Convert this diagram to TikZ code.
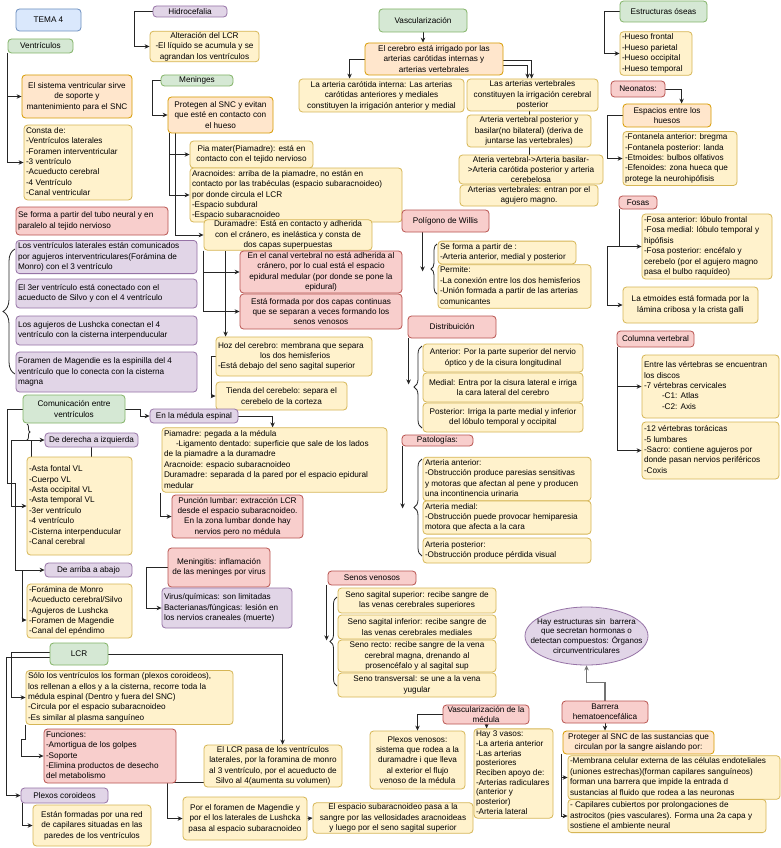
\documentclass[tikz,border=0pt]{standalone}
\usepackage{fontspec}
\setmainfont{Liberation Sans}
\usetikzlibrary{arrows.meta,shapes.geometric,decorations.pathreplacing,backgrounds}
\definecolor{yelF}{HTML}{FFF2CC}\definecolor{yelD}{HTML}{D6B656}
\definecolor{oraF}{HTML}{FFE6CC}\definecolor{oraD}{HTML}{D79B00}
\definecolor{redF}{HTML}{F8CECC}\definecolor{redD}{HTML}{B85450}
\definecolor{purF}{HTML}{E1D5E7}\definecolor{purD}{HTML}{9673A6}
\definecolor{grnF}{HTML}{D5E8D4}\definecolor{grnD}{HTML}{82B366}
\definecolor{bluF}{HTML}{DAE8FC}\definecolor{bluD}{HTML}{6C8EBF}
\newcommand\boxfont{\fontsize{8.2}{10.4}\selectfont}
\newcommand\bx[7]{\node[box,#2,minimum width={#5-#3},minimum height={#6-#4}] (#1) at ({(#3+#5)/2},{(#4+#6)/2}) {#7};}
\newcommand\bxl[7]{\node[box,#2,minimum width={#5-#3},minimum height={#6-#4}] (#1) at ({(#3+#5)/2},{(#4+#6)/2}) {\makebox[\dimexpr#5pt-#3pt-4pt\relax][l]{\begin{tabular}{@{}l@{}}#7\end{tabular}}};}
\begin{document}
\begin{tikzpicture}[x=1pt,y=-1pt,
  box/.style={draw, rounded corners=3.5pt, line width=0.8pt, inner xsep=2pt, inner ysep=1pt, font=\boxfont, text=black, align=center},
  yel/.style={fill=yelF, draw=yelD},
  ora/.style={fill=oraF, draw=oraD},
  red/.style={fill=redF, draw=redD},
  pur/.style={fill=purF, draw=purD},
  grn/.style={fill=grnF, draw=grnD},
  blu/.style={fill=bluF, draw=bluD},
  con/.style={draw=black!85, line width=0.8pt, -{Stealth[length=5pt,width=4.5pt]}},
  ln/.style={draw=black!85, line width=0.8pt},
  brc/.style={ln, decorate, decoration={brace, amplitude=#1}}]
\useasboundingbox (0,0) rectangle (781,848);

% ---------- top left ----------
\bx{tema}{blu}{16}{9}{81}{31}{TEMA 4}
\bx{hidro}{pur}{153}{6}{227}{17}{Hidrocefalia}
\bx{alter}{yel}{150}{32}{259}{61}{Alteración del LCR\\-El líquido se acumula y se\\agrandan los ventrículos}
\bx{vent}{grn}{8}{39}{73}{53}{Ventrículos}
\bx{sist}{ora}{22}{75}{132}{118}{El sistema ventricular sirve\\de soporte y\\mantenimiento para el SNC}
\bxl{consta}{yel}{24}{126}{132}{199}{Consta de:\\-Ventrículos laterales\\-Foramen interventricular\\-3 ventrículo\\-Acueducto cerebral\\-4 Ventrículo\\-Canal ventricular}
\bxl{seforma}{red}{16}{207}{168}{235}{Se forma a partir del tubo neural y en\\paralelo al tejido nervioso}
\bxl{lat}{pur}{16}{242}{197}{272}{Los ventrículos laterales están comunicados\\por agujeros interventriculares(Forámina de\\Monro) con el 3 ventrículo}
\bxl{tercer}{pur}{16}{279}{197}{308}{El 3er ventrículo está conectado con el\\acueducto de Silvo y con el 4 ventrículo}
\bxl{lush}{pur}{16}{316}{197}{345}{Los agujeros de Lushcka conectan el 4\\ventrículo con la cisterna interpenducular}
\bxl{mag}{pur}{16}{352}{197}{392}{Foramen de Magendie es la espinilla del 4\\ventrículo que lo conecta con la cisterna\\magna}

% ---------- meninges ----------
\bx{men}{grn}{161}{75}{233}{86}{Meninges}
\bx{prot}{ora}{168}{97}{273}{133}{Protegen al SNC y evitan\\que esté en contacto con\\el hueso}
\bx{pia}{yel}{190}{141}{313}{168}{Pia mater(Piamadre): está en\\contacto con el tejido nervioso}
\bxl{arac}{yel}{190}{170}{402}{220}{Aracnoides: arriba de la piamadre, no están en\\contacto por las trabéculas (espacio subaracnoideo)\\por donde circula el LCR\\-Espacio subdural\\-Espacio subaracnoideo}
\bx{dura}{yel}{204}{220}{372}{250}{Duramadre: Está en contacto y adherida\\con el cránero, es inelástica y consta de\\dos capas superpuestas}
\bx{canal}{red}{240}{251}{402}{293}{En el canal vertebral no está adherida al\\cránero, por lo cual está el espacio\\epidural medular (por donde se pone la\\epidural)}
\bx{capas}{red}{240}{294}{402}{329}{Está formada por dos capas continuas\\que se separan a veces formando los\\senos venosos}
\bxl{hoz}{yel}{216}{337}{372}{376}{Hoz del cerebro: membrana que separa\\\hspace*{42pt}los dos hemisferios\\-Está debajo del seno sagital superior}
\bx{tienda}{yel}{216}{382}{347}{410}{Tienda del cerebelo: separa el\\cerebelo de la corteza}

% ---------- vascularización ----------
\bx{vasc}{grn}{379}{9}{467}{32}{Vascularización}
\bx{cereb}{ora}{365}{43}{503}{75}{El cerebro está irrigado por las\\arterias carótidas internas y\\arterias vertebrales}
\bx{carot}{yel}{299}{79}{464}{112}{La arteria carótida interna: Las arterias\\carótidas anteriores y mediales\\constituyen la irrigación anterior y medial}
\bx{vert1}{yel}{467}{79}{598}{111}{Las arterias vertebrales\\constituyen la irrigación cerebral\\posterior}
\bx{vert2}{yel}{467}{115}{591}{147}{Arteria vertebral posterior y\\basilar(no bilateral) (deriva de\\juntarse las vertebrales)}
\bx{vert3}{yel}{459}{155}{603}{184}{Ateria vertebral->Arteria basilar-\\>Arteria carótida posterior y arteria\\cerebelosa}
\bx{vert4}{yel}{460}{185}{598}{206}{Arterias vertebrales: entran por el\\agujero magno.}

% ---------- estructuras óseas ----------
\bx{oseas}{grn}{620}{1}{707}{22}{Estructuras óseas}
\bxl{huesos}{yel}{620}{32}{692}{75}{-Hueso frontal\\-Hueso parietal\\-Hueso occipital\\-Hueso temporal}
\bx{neo}{red}{611}{81}{665}{97}{Neonatos:}
\bx{esp}{ora}{623}{104}{711}{127}{Espacios entre los\\huesos}
\bxl{font}{yel}{623}{133}{737}{184}{-Fontanela anterior: bregma\\-Fontanela posterior: landa\\-Etmoides: bulbos olfativos\\-Efenoides: zona hueca que\\protege la neurohipófisis}
\bx{fosas}{red}{619}{196}{657}{209}{Fosas}
\bxl{fosal}{yel}{642}{214}{772}{279}{-Fosa anterior: lóbulo frontal\\-Fosa medial: lóbulo temporal y\\hipófisis\\-Fosa posterior: encéfalo y\\cerebelo (por el agujero magno\\pasa el bulbo raquídeo)}
\bx{etm}{yel}{623}{287}{758}{323}{La etmoides está formada por la\\lámina cribosa y la crista galli}
\bx{col}{red}{617}{331}{694}{347}{Columna vertebral}
\bxl{entre}{yel}{642}{355}{779}{418}{Entre las vértebras se encuentran\\los discos\\-7 vértebras cervicales\\\hspace*{18pt}-C1: Atlas\\\hspace*{18pt}-C2: Axis}
\bxl{doce}{yel}{642}{422}{779}{479}{-12 vértebras torácicas\\-5 lumbares\\-Sacro: contiene agujeros por\\donde pasan nervios periféricos\\-Coxis}

% ---------- Willis / distribución / patologías ----------
\bx{willis}{red}{402}{210}{489}{232}{Polígono de Willis}
\bxl{sef}{yel}{438}{242}{576}{263}{Se forma a partir de :\\-Arteria anterior, medial y posterior}
\bxl{perm}{yel}{438}{265}{591}{308}{Permite:\\-La conexión entre los dos hemisferios\\-Unión formada a partir de las arterias\\comunicantes}
\bx{dist}{red}{408}{316}{496}{338}{Distribuición}
\bx{ant}{yel}{423}{344}{583}{372}{Anterior: Por la parte superior del nervio\\óptico y de la cisura longitudinal}
\bx{med}{yel}{423}{373}{583}{402}{Medial: Entra por la cisura lateral e irriga\\la cara lateral del cerebro}
\bx{post}{yel}{423}{403}{583}{432}{Posterior: Irriga la parte medial y inferior\\del lóbulo temporal y occipital}
\bx{pat}{red}{402}{435}{473}{446}{Patologías:}
\bxl{aant}{yel}{423}{458}{591}{500}{Arteria anterior:\\-Obstrucción produce paresias sensitivas\\y motoras que afectan al pene y producen\\una incontinencia urinaria}
\bxl{amed}{yel}{423}{501}{591}{534}{Arteria medial:\\-Obstrucción puede provocar hemiparesia\\motora que afecta a la cara}
\bxl{apost}{yel}{423}{538}{591}{563}{Arteria posterior:\\-Obstrucción produce pérdida visual}

% ---------- comunicación ----------
\bx{comun}{grn}{23}{395}{125}{423}{Comunicación entre\\ventrículos}
\bx{medula}{pur}{150}{409}{238}{423}{En la médula espinal}
\bxl{piam}{yel}{162}{430}{387}{490}{Piamadre: pegada a la médula\\\hspace*{12pt}-Ligamento dentado: superficie que sale de los lados\\de la piamadre a la duramadre\\Aracnoide: espacio subaracnoideo\\Duramadre: separada d la pared por el espacio epidural\\medular}
\bx{punc}{red}{172}{495}{303}{538}{Punción lumbar: extracción LCR\\desde el espacio subaracnoideo.\\En la zona lumbar donde hay\\nervios pero no médula}
\bx{menin}{red}{168}{548}{270}{587}{Meningitis: inflamación\\de las meninges por virus}
\bxl{virus}{pur}{162}{588}{292}{628}{Virus/químicas: son limitadas\\Bacterianas/fúngicas: lesión en\\los nervios craneales (muerte)}
\bx{dered}{pur}{45}{433}{138}{447}{De derecha a izquierda}
\bxl{asta}{yel}{27}{457}{132}{555}{-Asta fontal VL\\-Cuerpo VL\\-Asta occipital VL\\-Asta temporal VL\\-3er ventrículo\\-4 ventrículo\\-Cisterna interpenducular\\-Canal cerebral}
\bx{arriba}{pur}{45}{563}{132}{577}{De arriba a abajo}
\bxl{foram}{yel}{27}{585}{132}{637}{-Forámina de Monro\\-Acueducto cerebral/Silvo\\-Agujeros de Lushcka\\-Foramen de Magendie\\-Canal del epéndimo}

% ---------- senos ----------
\bx{senos}{red}{328}{571}{416}{585}{Senos venosos}
\bx{ss}{yel}{338}{588}{496}{613}{Seno sagital superior: recibe sangre de\\las venas cerebrales superiores}
\bx{si}{yel}{338}{615}{496}{639}{Seno sagital inferior: recibe sangre de\\las venas cerebrales mediales}
\bx{sr}{yel}{338}{640}{496}{672}{Seno recto: recibe sangre de la vena\\cerebral magna, drenando al\\prosencéfalo y al sagital sup}
\bx{st}{yel}{338}{673}{496}{697}{Seno transversal: se une a la vena\\yugular}

\node[ellipse, draw=purD, fill=purF, line width=0.8pt, minimum width=123, minimum height=58, inner sep=0pt] (hay) at (586.5,636) {};
\node[font=\fontsize{8}{9.8}\selectfont, align=center, inner sep=0pt] (haytxt) at (hay.center) {Hay estructuras sin\ \ barrera\\que secretan hormonas o\\detectan compuestos: Órganos\\circunventriculares};

% ---------- LCR ----------
\bx{lcr}{grn}{50}{643}{108}{665}{LCR}
\bxl{solo}{yel}{26}{672}{233}{723}{Sólo los ventrículos los forman (plexos coroideos),\\los rellenan a ellos y a la cisterna, recorre toda la\\médula espinal (Dentro y fuera del SNC)\\-Circula por el espacio subaracnoideo\\-Es similar al plasma sanguíneo}
\bxl{func}{red}{44}{730}{176}{782}{Funciones:\\-Amortigua de los golpes\\-Soporte\\-Elimina productos de desecho\\del metabolismo}
\bx{plexc}{pur}{21}{788}{108}{803}{Plexos coroideos}
\bx{estan}{yel}{33}{805}{151}{846}{Están formadas por una red\\de capilares situadas en las\\paredes de los ventrículos}
\bx{pasa}{yel}{204}{745}{342}{787}{El LCR pasa de los ventrículos\\laterales, por la foramina de monro\\al 3 ventrículo, por el acueducto de\\Silvo al 4(aumenta su volumen)}
\bx{porfor}{yel}{183}{797}{307}{840}{Por el foramen de Magendie y\\por el los laterales de Lushcka\\pasa al espacio subaracnoideo}
\bx{espac}{yel}{313}{803}{473}{833}{El espacio subaracnoideo pasa a la\\sangre por las vellosidades aracnoideas\\y luego por el seno sagital superior}

% ---------- médula / barrera ----------
\bx{vmed}{red}{443}{705}{529}{724}{Vascularización de la\\médula}
\bx{plexv}{yel}{370}{731}{465}{789}{Plexos venosos:\\sistema que rodea a la\\duramadre i que lleva\\al exterior el flujo\\venoso de la médula}
\bxl{vasos}{yel,font=\fontsize{8.2}{9.7}\selectfont}{474}{729}{553}{818}{Hay 3 vasos:\\-La arteria anterior\\-Las arterias\\posteriores\\Reciben apoyo de:\\-Arterias radiculares\\(anterior y\\posterior)\\-Arteria lateral}
\bx{barr}{red}{562}{701}{648}{723}{Barrera\\hematoencefálica}
\bx{prot2}{ora}{563}{731}{714}{754}{Proteger al SNC de las sustancias que\\circulan por la sangre aislando por:}
\bxl{memb}{yel}{568}{756}{780}{799}{-Membrana celular externa de las células endoteliales\\(uniones estrechas)(forman capilares sanguíneos)\\forman una barrera que impide la entrada d\\sustancias al fluido que rodea a las neuronas}
\bxl{capil}{yel}{568}{800}{766}{832}{- Capilares cubiertos por prolongaciones de\\astrocitos (pies vasculares). Forma una 2a capa y\\sostiene el ambiente neural}

% ================= connectors =================
\begin{scope}[on background layer]
\fill[white] (0,0) rectangle (781,848);
% hidrocefalia / ventrículos
\draw[con] (hidro.west) -- ++(-18,0) |- (alter.west);
\draw[con] (vent.south west) |- (sist.west);
\draw[con] (vent.south west) |- (consta.west);
\draw[brc=12pt] (15,374) -- (15,249);
% meninges
\draw[con] (men.west) -- ++(-8,0) |- (prot.west);
\coordinate (pa) at ([xshift=2]prot.south west);
\coordinate (pb) at ([xshift=8]prot.south west);
\draw[con] (pa) |- (pia.west);
\draw[con] (pa) |- (arac.west);
\draw[con] (pb) |- (dura.west);
\draw[con] (dura.south west) |- (canal.west);
\draw[con] (dura.south west) |- (capas.west);
\coordinate (da) at ([xshift=22]dura.south west);
\draw[con] (da) -- (da |- hoz.north);
\draw[con] (hoz.west) -- ++(-4,0) |- (tienda.west);
% vascularización
\draw[con] (vasc.south) -- (vasc.south |- cereb.north);
\coordinate (ca) at ([xshift=51]carot.north west);
\draw[con] (cereb.west) -| (ca);
\coordinate (va) at ([xshift=61]vert1.north west);
\coordinate (vb) at ([xshift=65]vert1.north west);
\draw[con] ([yshift=-1]cereb.east) -| (vb);
\draw[con] ([yshift=-6]cereb.east) -| (va);
\coordinate (vc) at ([xshift=63]vert1.south west);
\draw[ln] (vc) -- (vc |- vert4.north);
% óseas
\draw[con] (oseas.west) -- ++(-15,0) |- (huesos.west);
\coordinate (na) at ([xshift=59]esp.north west);
\draw[con] (neo.east) -| (na);
\draw[con] (esp.west) -- ++(-15,0) |- (font.west);
\coordinate (fa) at ([xshift=1]fosas.south west);
\draw[con] (fa) |- (fosal.west);
\coordinate (fb) at (fa |- fosal.west);
\draw[con] (fb) -- ++(-12,0) |- (etm.west);
\coordinate (cb) at ([xshift=1]col.south west);
\draw[con] (cb) |- (entre.west);
\draw[con] (cb) |- (doce.west);
% willis / distribución / patologías / senos
\coordinate (wa) at ([xshift=21]willis.south west);
\coordinate (wt) at ([yshift=-39]wa);
\draw[con] (wa) -- (wt);
\draw[brc=6pt] (437,294) -- (437,244);
\coordinate (dsa) at ([xshift=1]dist.south west);
\coordinate (dst) at ([yshift=-46]dsa);
\draw[con] (dsa) -- (dst);
\draw[brc=8pt] (422,428) -- (422,346);
\coordinate (pta) at ([xshift=1]pat.south west);
\coordinate (ptt) at ([yshift=-62]pta);
\draw[con] (pta) -- (ptt);
\draw[brc=8pt] (422,556) -- (422,459);
\coordinate (sna) at ([xshift=-1]senos.south west);
\coordinate (snt) at ([yshift=-55]sna);
\draw[con] (sna) -- (snt);
\draw[brc=7pt] (337,686) -- (337,597);
% comunicación
\draw[con] (comun.east) -- ++(15,0) |- (medula.west);
\coordinate (ma) at ([xshift=111]piam.north west);
\draw[con] (medula.east) -| (ma);
\coordinate (pma) at ([xshift=-1]piam.south west);
\draw[con] (pma) |- (punc.west);
\draw[con] (menin.west) -- ++(-21,0) |- (virus.west);
\draw[con] (comun.west) -- ++(-15,0) -- ++(0,74) -- ++(8,0) |- (arriba.west);
\coordinate (dd) at ([xshift=-33]dered.west);
\draw[con] (dd) -- (dered.west);
\draw[con] (dd) |- (asta.west);
\draw[ln] (dered.south) -- (dered.south |- asta.north);
\draw[brc=3pt] (27,424) -- (27,440);
\coordinate (sb) at (31,440);
\draw[ln] (sb) -- (sb |- asta.north);
\coordinate (aa) at ([xshift=-22]arriba.west);
\draw[con] (aa) |- ([yshift=-9]foram.west);
% LCR
\coordinate (la) at ([xshift=79]pasa.north west);
\draw[con] (lcr.east) -| (la);
\draw[con] ([yshift=2]lcr.west) -- ++(-38,0) |- (solo.west);
\draw[con] ([yshift=-3]lcr.west) -- ++(-43,0) |- (plexc.west);
\draw[con] (solo.south west) -- ++(0,14) -- ++(-4,0) |- (func.west);
\draw[con] ([yshift=5]pasa.south west) -- ++(-36,0) |- (porfor.west);
\draw[con] (porfor.east) -- (espac.west);
\draw[con] ([xshift=2]plexc.south west) |- (estan.west);
% médula / barrera
\draw[con] (vmed.west) -| (plexv.north);
\coordinate (vm) at ([xshift=44]vmed.south west);
\draw[con] (vm) -- (vm |- vasos.north);
\draw[con, draw=black!55, line width=1.4pt] (barr.north) -- ++(0,-18) -| (hay.south);
\draw[con] (barr.south) -- (barr.south |- prot2.north);
\coordinate (ba) at ([xshift=-1]prot2.south west);
\draw[con] (ba) |- (memb.west);
\draw[con] (ba) |- (capil.west);
\end{scope}
\end{tikzpicture}
\end{document}
